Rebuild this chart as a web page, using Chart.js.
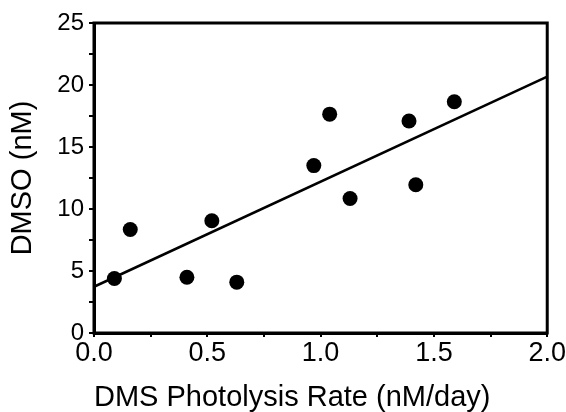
<!DOCTYPE html>
<html>
<head>
<meta charset="utf-8">
<script src="https://cdn.jsdelivr.net/npm/chart.js@4"></script>
<style>
html,body{margin:0;padding:0;background:#fff;}
#c{display:block;}
</style>
</head>
<body>
<canvas id="c" width="566" height="412"></canvas>
<script>
// Data
const photolysisRate = [0.09, 0.16, 0.41, 0.52, 0.63, 0.97, 1.04, 1.13, 1.39, 1.42, 1.59];
const dmso           = [4.4, 8.35, 4.5, 9.05, 4.1, 13.5, 17.65, 10.85, 17.1, 11.95, 18.65];
const fitX = [0.0, 2.0];
const fitY = [3.73, 20.67];
const xTickLabels = ['0.0', '0.5', '1.0', '1.5', '2.0'];
const yTickLabels = ['0', '5', '10', '15', '20', '25'];
const xTitle = 'DMS Photolysis Rate (nM/day)';
const yTitle = 'DMSO (nM)';

const points = photolysisRate.map((x, i) => ({x: x, y: dmso[i]}));
const fitLine = fitX.map((x, i) => ({x: x, y: fitY[i]}));

const FONT = "'Liberation Sans', Arial, Helvetica, sans-serif";

const framePlugin = {
  id: 'frame',
  beforeDraw(chart) {
    const ctx = chart.ctx;
    ctx.save();
    ctx.fillStyle = '#fff';
    ctx.fillRect(0, 0, chart.width, chart.height);
    ctx.restore();
  },
  afterDatasetsDraw(chart) {
    const a = chart.chartArea;
    const ctx = chart.ctx;
    ctx.save();
    ctx.strokeStyle = '#000';
    ctx.lineWidth = 3;
    ctx.strokeRect(a.left, a.top, a.right - a.left, a.bottom - a.top);
    ctx.restore();
  }
};

new Chart(document.getElementById('c'), {
  type: 'scatter',
  data: {
    datasets: [
      {
        type: 'scatter',
        data: points,
        pointRadius: 7.5,
        pointHoverRadius: 7.5,
        pointBackgroundColor: '#000',
        pointBorderColor: '#000',
        pointBorderWidth: 0
      },
      {
        type: 'line',
        data: fitLine,
        borderColor: '#000',
        borderWidth: 2.5,
        pointRadius: 0,
        fill: false,
        tension: 0
      }
    ]
  },
  options: {
    responsive: false,
    animation: false,
    devicePixelRatio: 1,
    layout: { padding: { top: 23, right: 18, left: 0, bottom: 0 } },
    plugins: { legend: { display: false }, tooltip: { enabled: false } },
    scales: {
      x: {
        type: 'linear',
        min: 0, max: 2,
        afterFit(s) { s.height = 79; },
        ticks: {
          stepSize: 0.25,
          autoSkip: false,
          maxRotation: 0,
          padding: 0,
          color: '#000',
          font: { family: FONT, size: 27 },
          callback(v) {
            const k = Math.round(v * 2);
            return Math.abs(v * 2 - k) < 1e-6 ? xTickLabels[k] : '';
          }
        },
        grid: { drawOnChartArea: false, drawTicks: true, tickLength: 4, color: '#000', lineWidth: 2 },
        border: { display: true, color: '#000', width: 3 },
        title: {
          display: true, text: xTitle, color: '#000', align: 'start',
          font: { family: FONT, size: 29, lineHeight: 1.0 },
          padding: { top: 0, bottom: 0 }
        }
      },
      y: {
        type: 'linear',
        min: 0, max: 25,
        afterFit(s) { s.width = 94; },
        ticks: {
          stepSize: 2.5,
          autoSkip: false,
          padding: 5,
          color: '#000',
          font: { family: FONT, size: 24 },
          callback(v) {
            const k = Math.round(v / 5);
            return Math.abs(v / 5 - k) < 1e-6 ? yTickLabels[k] : '';
          }
        },
        grid: { drawOnChartArea: false, drawTicks: true, tickLength: 5, color: '#000', lineWidth: 2 },
        border: { display: true, color: '#000', width: 3 },
        title: {
          display: true, text: yTitle, color: '#000',
          font: { family: FONT, size: 29, lineHeight: 1.2 },
          padding: { top: 6, bottom: 0 }
        }
      }
    }
  },
  plugins: [framePlugin]
});
</script>
</body>
</html>
